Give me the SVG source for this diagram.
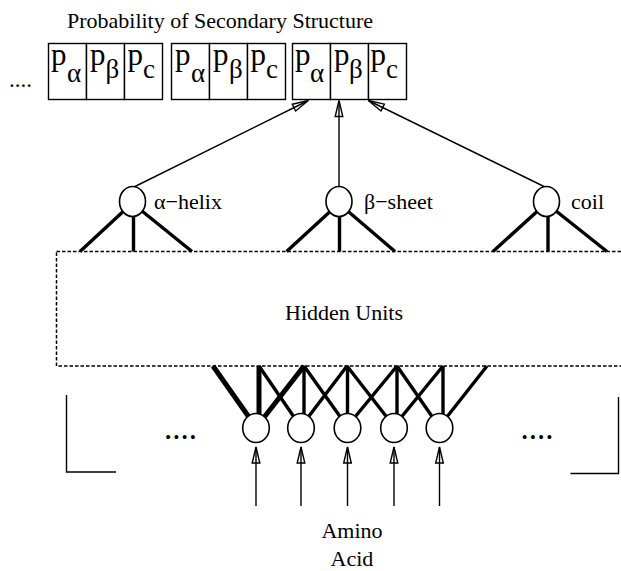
<svg xmlns="http://www.w3.org/2000/svg" width="621" height="571" viewBox="0 0 621 571" font-family="Liberation Serif, Times New Roman, serif">
  <style>
    text { font-family: 'Liberation Serif', 'Times New Roman', serif; fill: #000; }
    .cell { fill: #fff; stroke: #000; stroke-width: 1.4; }
    .p { font-size: 31px; }
    .sub { font-size: 27px; }
    .subc { font-size: 27px; }
    .lbl { font-size: 22px; }
    .unit { fill: #fff; stroke: #000; stroke-width: 1.6; }
    .thin { stroke: #000; stroke-width: 1.4; fill: none; }
    .w3 { stroke: #000; stroke-width: 3.4; fill: none; }
    .w5 { stroke: #000; stroke-width: 5; fill: none; }
    .dots { font-size: 33px; }
  </style>
  <defs>
    <!-- open triangular arrowhead, shaft visible through it -->
    <marker id="open-arrow" markerUnits="userSpaceOnUse" markerWidth="20" markerHeight="12" viewBox="-18 -6 20 12" refX="0" refY="0" orient="auto">
      <path d="M0,0 L-16,-3.8 L-16,3.8 Z" fill="none" stroke="#000" stroke-width="1.4"/>
    </marker>
  </defs>

  <rect width="621" height="571" fill="#fff"/>

  <!-- title -->
  <text id="title" x="220" y="28" font-size="22" text-anchor="middle">Probability of Secondary Structure</text>

  <!-- output probability blocks -->
  <g id="prob-ellipsis"><text x="9" y="87" font-size="23">....</text></g>
  <g id="prob-block-1">
    <rect class="cell" x="48.5" y="43.5" width="38" height="56"/>
    <rect class="cell" x="86.5" y="43.5" width="38" height="56"/>
    <rect class="cell" x="124.5" y="43.5" width="38" height="56"/>
    <text class="p" x="51" y="65">p</text><text class="sub" x="67" y="82">α</text>
    <text class="p" x="90" y="65">p</text><text class="sub" x="105.5" y="78">β</text>
    <text class="p" x="127.5" y="65">p</text><text class="subc" x="143" y="78">c</text>
  </g>
  <g id="prob-block-2">
    <rect class="cell" x="171.5" y="43.5" width="38" height="56"/>
    <rect class="cell" x="209.5" y="43.5" width="38" height="56"/>
    <rect class="cell" x="247.5" y="43.5" width="38" height="56"/>
    <text class="p" x="175" y="65">p</text><text class="sub" x="191" y="82">α</text>
    <text class="p" x="213" y="65">p</text><text class="sub" x="229" y="78">β</text>
    <text class="p" x="250.5" y="65">p</text><text class="subc" x="266" y="78">c</text>
  </g>
  <g id="prob-block-3">
    <rect class="cell" x="292.5" y="43.5" width="38" height="56"/>
    <rect class="cell" x="330.5" y="43.5" width="38" height="56"/>
    <rect class="cell" x="368.5" y="43.5" width="38" height="56"/>
    <text class="p" x="295" y="65">p</text><text class="sub" x="310" y="82">α</text>
    <text class="p" x="334" y="65">p</text><text class="sub" x="349" y="78">β</text>
    <text class="p" x="370.5" y="65">p</text><text class="subc" x="386" y="78">c</text>
  </g>

  <!-- connectors -->
  <g id="connectors">
    <!-- output units to probability cells -->
    <line class="thin" x1="134" y1="187" x2="308.3" y2="100.5" marker-end="url(#open-arrow)"/>
    <line class="thin" x1="339" y1="186.5" x2="339" y2="100.5" marker-end="url(#open-arrow)"/>
    <line class="thin" x1="545" y1="187" x2="368.3" y2="100.5" marker-end="url(#open-arrow)"/>

    <!-- hidden units to output units -->
    <line class="w3" x1="80" y1="251.5" x2="128" y2="207"/>
    <line class="w3" x1="133.5" y1="251.5" x2="133.5" y2="205"/>
    <line class="w3" x1="192" y1="251.5" x2="137" y2="207"/>
    <line class="w3" x1="286.6" y1="251.5" x2="335" y2="207"/>
    <line class="w3" x1="339.5" y1="251.5" x2="339.5" y2="205"/>
    <line class="w3" x1="395" y1="251.5" x2="343" y2="207"/>
    <line class="w3" x1="493" y1="251.5" x2="542" y2="207"/>
    <line class="w3" x1="548" y1="251.5" x2="548" y2="205"/>
    <line class="w3" x1="607" y1="251.5" x2="551" y2="207"/>

    <!-- input units to hidden units -->
    <line class="w5" x1="213" y1="366" x2="251" y2="420"/>
    <line class="w5" x1="259" y1="366" x2="259" y2="420"/>
    <line class="w5" x1="304" y1="366" x2="262" y2="420"/>

    <line class="w3" x1="259" y1="366" x2="296" y2="420"/>
    <line class="w3" x1="304" y1="366" x2="304" y2="420"/>
    <line class="w3" x1="347" y1="366" x2="306" y2="420"/>

    <line class="w3" x1="304" y1="366" x2="342.5" y2="420"/>
    <line class="w3" x1="347.5" y1="366" x2="347.5" y2="420"/>
    <line class="w3" x1="397" y1="366" x2="352.5" y2="420"/>

    <line class="w3" x1="347" y1="366" x2="389" y2="420"/>
    <line class="w3" x1="397" y1="366" x2="397" y2="420"/>
    <line class="w3" x1="443" y1="366" x2="399" y2="420"/>

    <line class="w3" x1="397" y1="366" x2="434.5" y2="420"/>
    <line class="w3" x1="443" y1="366" x2="443" y2="420"/>
    <line class="w3" x1="487" y1="366" x2="444.5" y2="420"/>

    <!-- amino acid inputs -->
    <line class="thin" x1="256" y1="506" x2="256" y2="447" marker-end="url(#open-arrow)"/>
    <line class="thin" x1="301" y1="506" x2="301" y2="447" marker-end="url(#open-arrow)"/>
    <line class="thin" x1="347.5" y1="506" x2="347.5" y2="447" marker-end="url(#open-arrow)"/>
    <line class="thin" x1="394" y1="506" x2="394" y2="447" marker-end="url(#open-arrow)"/>
    <line class="thin" x1="439.5" y1="506" x2="439.5" y2="447" marker-end="url(#open-arrow)"/>
  </g>

  <!-- output units -->
  <g id="out-helix">
    <ellipse class="unit" cx="132.5" cy="201.5" rx="13" ry="15"/>
    <text class="lbl" x="154" y="208.5">α−helix</text>
  </g>
  <g id="out-sheet">
    <ellipse class="unit" cx="339" cy="201.5" rx="13" ry="15"/>
    <text class="lbl" x="364" y="208.5">β−sheet</text>
  </g>
  <g id="out-coil">
    <ellipse class="unit" cx="546.5" cy="201.5" rx="13" ry="15"/>
    <text class="lbl" x="571" y="208.5">coil</text>
  </g>

  <!-- hidden layer -->
  <g id="hidden-units">
    <rect x="56.5" y="251.5" width="600" height="114.5" fill="none" stroke="#000" stroke-width="1.5" stroke-dasharray="3.5 2"/>
    <text class="lbl" x="344" y="320" text-anchor="middle">Hidden Units</text>
  </g>

  <!-- input window -->
  <g id="input-window">
    <polyline class="thin" points="66.5,395 66.5,472 116,472"/>
    <polyline class="thin" points="570.5,473.5 618.5,473.5 618.5,397"/>
    <text class="dots" x="164" y="439">....</text>
    <text class="dots" x="520.5" y="439">....</text>
  </g>
  <g id="in-1"><ellipse class="unit" cx="256" cy="428" rx="13.3" ry="14.5"/></g>
  <g id="in-2"><ellipse class="unit" cx="301" cy="428" rx="13.3" ry="14.5"/></g>
  <g id="in-3"><ellipse class="unit" cx="347.5" cy="428" rx="13.3" ry="14.5"/></g>
  <g id="in-4"><ellipse class="unit" cx="394" cy="428" rx="13.3" ry="14.5"/></g>
  <g id="in-5"><ellipse class="unit" cx="439.5" cy="428" rx="13.3" ry="14.5"/></g>

  <g id="amino-acid">
    <text x="352" y="538" font-size="22" text-anchor="middle">Amino</text>
    <text x="352" y="566" font-size="22" text-anchor="middle">Acid</text>
  </g>
</svg>
